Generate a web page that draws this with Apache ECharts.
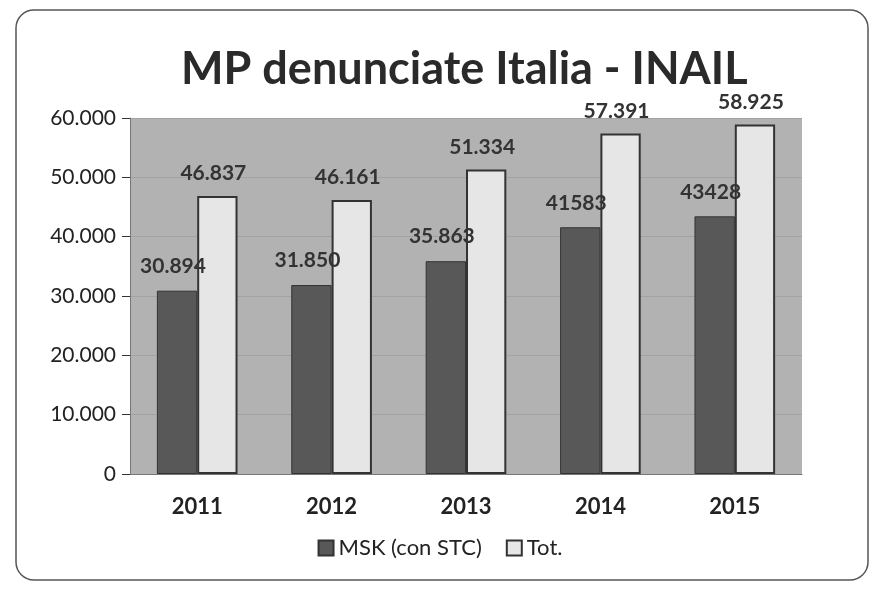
<!DOCTYPE html>
<html><head><meta charset="utf-8">
<script src="https://cdn.jsdelivr.net/npm/echarts@6/dist/echarts.min.js"></script>
<style>html,body{margin:0;padding:0;background:#fff}#c{width:880px;height:590px}</style>
</head><body><div id="c"></div>
<script>
const categories = ['2011','2012','2013','2014','2015'];
const mskValues = [30894, 31850, 35863, 41583, 43428];
const totValues = [46837, 46161, 51334, 57391, 58925];
const mskLabels = ['30.894','31.850','35.863','41583','43428'];
const totLabels = ['46.837','46.161','51.334','57.391','58.925'];
const yTicks = [0,10000,20000,30000,40000,50000,60000];

const chart = echarts.init(document.getElementById('c'));
const fmt = v => v === 0 ? '0' : (v/1000).toFixed(3);
chart.setOption({
  backgroundColor: '#fff',
  textStyle: {fontFamily: 'Lato'},
  graphic: [{type:'rect', shape:{x:16,y:10,width:852,height:570,r:18}, style:{fill:'none', stroke:'#555', lineWidth:1.5}, z:-1}],
  title: {text:'MP denunciate Italia - INAIL', left:176, top:42,
    textStyle:{fontFamily:'Lato', fontSize:45, fontWeight:'bold', color:'#2a2a2a'}},
  legend: {bottom:26, left:'center', itemWidth:15, itemHeight:15, itemGap:24,
    textStyle:{fontFamily:'Lato', fontSize:22, color:'#222'},
    data:[{name:'MSK (con STC)', icon:'rect'},{name:'Tot.', icon:'rect'}]},
  grid: {left:130, right:78, top:118, bottom:116, show:true, backgroundColor:'#b2b2b2', borderWidth:0},
  xAxis: {type:'category', data:categories,
    axisLine:{show:true, lineStyle:{color:'#777'}}, axisTick:{show:false},
    axisLabel:{fontFamily:'Lato', fontSize:22, fontWeight:'bold', color:'#222', margin:22}},
  yAxis: {type:'value', min:0, max:60000, interval:10000,
    axisLine:{show:true, lineStyle:{color:'#777'}},
    axisTick:{show:true, length:8, inside:false, lineStyle:{color:'#333'}},
    splitLine:{show:true, lineStyle:{color:'#a2a2a2', width:1}},
    axisLabel:{fontFamily:'Lato', fontSize:21, color:'#222', margin:14,
      formatter: v => yTicks.includes(v) ? fmt(v) : ''}},
  series: [
    {name:'MSK (con STC)', type:'bar', data:mskValues, barGap:'0%', barCategoryGap:'40%',
      itemStyle:{color:'#585858', borderColor:'#333', borderWidth:1},
      label:{show:true, position:'top', distance:14, offset:[-4,0], fontFamily:'Lato', fontSize:21, fontWeight:'bold', color:'#333',
        formatter: p => mskLabels[p.dataIndex]}},
    {name:'Tot.', type:'bar', data:totValues,
      itemStyle:{color:'#e6e6e6', borderColor:'#333', borderWidth:2},
      label:{show:true, position:'top', distance:12, offset:[-4,0], fontFamily:'Lato', fontSize:21, fontWeight:'bold', color:'#333',
        formatter: p => totLabels[p.dataIndex]}}
  ]
});
</script></body></html>
